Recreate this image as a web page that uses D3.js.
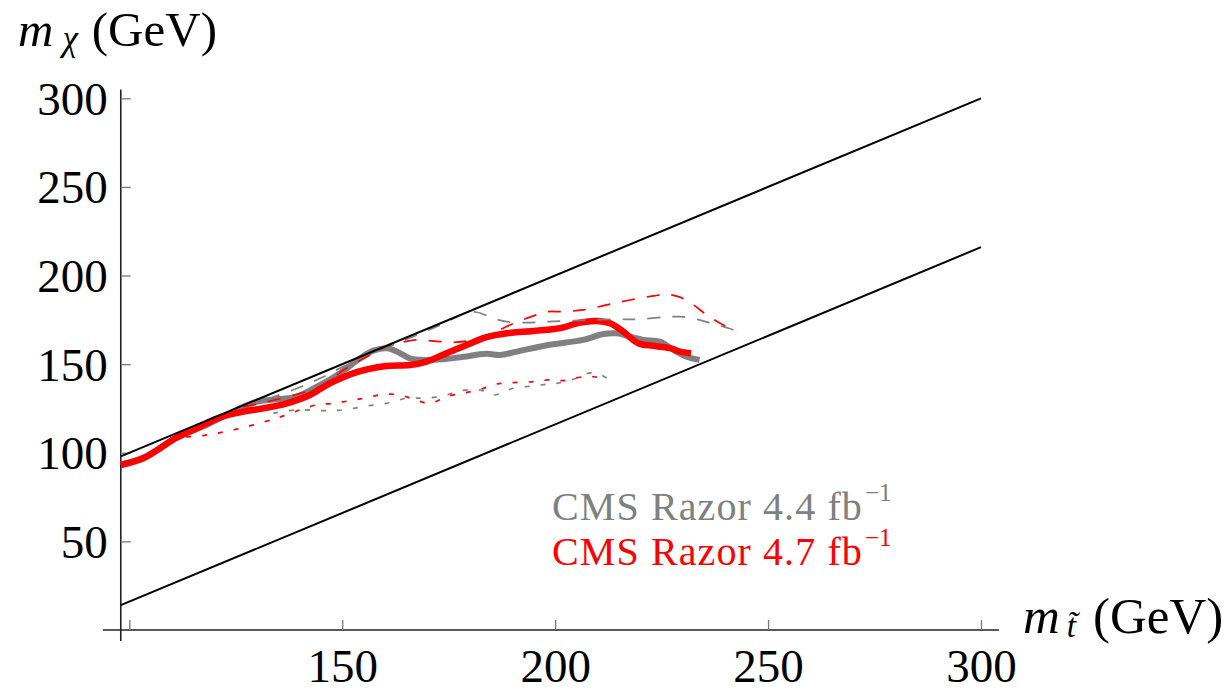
<!DOCTYPE html>
<html>
<head>
<meta charset="utf-8">
<script src="https://cdn.jsdelivr.net/npm/d3@7"></script>
<style>
  html, body { margin: 0; padding: 0; background: #fff; }
  svg { display: block; }
  text { font-family: "Liberation Serif", "Times New Roman", Times, serif; }
</style>
</head>
<body>
<svg id="chart" width="1232" height="689"></svg>
<script>
// ---------------- data ----------------
// CMS Razor 4.7 fb^-1 (red) : thick = observed, dashed = expected, dotted = -1 sigma
const red47ObsStop = [98, 103.3, 111.1, 115.8, 121.3, 126.8, 131.5, 137.0, 142.4, 147.1, 153.8, 160.4, 165.9, 169.8, 174.5, 179.2, 183.9, 188.6, 194.9, 201.2, 205.8, 209.8, 212.9, 216.0, 219.5, 223.1, 227.0, 229.3, 231.9];
const red47ObsChi  = [93.1, 96.9, 108.5, 113.8, 120.0, 123.2, 125.1, 127.9, 132.6, 139.2, 145.8, 149.0, 149.5, 151.4, 156.2, 160.8, 165.2, 167.4, 168.7, 170.3, 173.4, 174.4, 173.1, 168.3, 161.8, 160.3, 159.0, 157.1, 156.2];

const red47ExpStop = [126.8, 144.8, 150.3, 155.8, 161.2, 163.6, 167.5, 173.0, 176.9, 180.8, 184.7, 188.6, 193.3, 198.4, 201.1, 206.6, 212.1, 217.6, 223.1, 226.2, 229.3, 232.5, 235.6, 239.5, 242.7];
const red47ExpChi  = [126.0, 137.3, 146.7, 154.2, 160.8, 162.1, 163.7, 162.7, 162.4, 163.7, 166.5, 171.2, 175.9, 179.6, 179.6, 180.6, 183.4, 186.2, 188.5, 189.4, 187.8, 183.4, 177.8, 172.1, 168.9];

const red47DotStop = [109.6, 116.6, 120.5, 125.2, 129.1, 133.8, 136.2, 140.1, 144.0, 147.9, 151.8, 155.8, 159.7, 163.6, 166.7, 170.6, 174.5, 178.4, 182.4, 186.3, 190.2, 194.9, 198.4, 201.9, 205.8, 209.0, 211.3];
const red47DotChi  = [108.4, 109.5, 111.0, 113.3, 115.7, 118.9, 120.8, 124.2, 127.0, 127.9, 129.4, 131.1, 133.0, 132.6, 130.2, 127.9, 131.7, 133.6, 135.8, 138.8, 139.6, 140.1, 141.1, 140.7, 142.6, 142.9, 142.0];

// CMS Razor 4.4 fb^-1 (gray)
const gray44ObsStop = [98, 103.3, 111.1, 118.0, 125.2, 129.9, 134.6, 139.3, 144.8, 149.5, 154.2, 157.3, 160.5, 162.8, 165.9, 169.0, 173.7, 177.7, 183.9, 187.1, 191.0, 198.4, 206.6, 211.3, 214.5, 217.6, 220.7, 224.6, 227.8, 230.9, 233.9];
const gray44ObsChi  = [93.4, 97.3, 108.5, 115.5, 124.2, 128.8, 130.2, 131.7, 138.3, 144.9, 153.3, 157.6, 159.0, 157.1, 153.3, 152.4, 152.8, 153.9, 155.8, 155.2, 157.1, 160.8, 163.7, 167.0, 167.4, 165.5, 163.7, 162.7, 158.0, 154.2, 152.4];

const gray44ExpStop = [126.8, 138.4, 145.6, 150.2, 163.6, 173.0, 179.2, 181.6, 185.5, 188.6, 193.3, 198.4, 207.4, 215.2, 219.9, 225.4, 229.3, 233.3, 237.2, 241.9, 243.8];
const gray44ExpChi  = [125.8, 135.4, 142.9, 148.6, 162.5, 172.0, 179.0, 179.3, 175.9, 174.0, 173.4, 174.0, 174.9, 175.3, 175.3, 176.5, 176.8, 175.3, 172.7, 169.3, 167.0];

const gray44DotStop = [133.8, 139.3, 145.6, 150.3, 155.8, 161.2, 165.1, 169.8, 174.5, 177.7, 182.4, 185.5, 190.2, 194.9, 198.4, 200.4, 204.3, 207.8, 210.1, 212.1];
const gray44DotChi  = [122.3, 124.2, 123.8, 124.2, 126.4, 128.3, 130.8, 130.8, 132.6, 135.0, 135.4, 132.6, 136.4, 137.7, 138.8, 139.2, 141.5, 144.9, 144.5, 142.2];

// kinematic boundaries: m_chi = m_stop - offset
const boundaryOffsets = [0, 84];
const boundaryStop = [98, 300];

// ticks
const xMajorTicks = [100, 150, 200, 250, 300];
const xTickLabels = ["", "150", "200", "250", "300"];
const xMinorTicks = d3.range(100, 301, 10);
const yMajorTicks = [50, 100, 150, 200, 250, 300];
const yTickLabels = ["50", "100", "150", "200", "250", "300"];
const yMinorTicks = d3.range(10, 301, 10);

const legendLabels = ["CMS Razor 4.4 fb", "CMS Razor 4.7 fb"];
const legendColors = ["#808080", "#ff0000"];

// ---------------- layout ----------------
const svg = d3.select("#chart");
const x = d3.scaleLinear().domain([100, 300]).range([129.3, 981]);
const y = d3.scaleLinear().domain([0, 300]).range([630, 98.3]);
const x0 = 98, xEnd = 304.2, yEnd = 305;

// axes lines (crossing at origin, extending slightly past it)
svg.append("line").attr("x1", x(x0) - 18).attr("x2", x(xEnd))
  .attr("y1", y(0)).attr("y2", y(0)).attr("stroke", "#222").attr("stroke-width", 1.6);
svg.append("line").attr("x1", x(x0)).attr("x2", x(x0))
  .attr("y1", y(0) + 11).attr("y2", y(yEnd)).attr("stroke", "#222").attr("stroke-width", 1.6);

// x ticks
const gx = svg.append("g").attr("transform", `translate(0,${y(0)})`);
gx.call(d3.axisBottom(x).tickValues(xMinorTicks).tickSize(-6).tickFormat(""));
gx.call(d3.axisBottom(x).tickValues(xMajorTicks).tickSize(-10).tickFormat((d, i) => xTickLabels[i]));
gx.selectAll(".domain").remove();
gx.attr("font-family", null);
gx.selectAll(".tick line").attr("stroke", "#777").attr("stroke-width", 1.3);
gx.selectAll(".tick text").attr("y", 52).attr("dy", 0)
  .attr("font-size", 47).attr("fill", "#000");

// y ticks
const gy = svg.append("g").attr("transform", `translate(${x(x0)},0)`);
gy.call(d3.axisLeft(y).tickValues(yMinorTicks).tickSize(-6).tickFormat(""));
gy.call(d3.axisLeft(y).tickValues(yMajorTicks).tickSize(-10).tickFormat((d, i) => yTickLabels[i]));
gy.selectAll(".domain").remove();
gy.attr("font-family", null);
gy.selectAll(".tick line").attr("stroke", "#777").attr("stroke-width", 1.3);
gy.selectAll(".tick text").attr("x", -13).attr("dy", 16)
  .attr("font-size", 47).attr("fill", "#000");

// ---------------- curves ----------------
const line = d3.line().x(d => x(d[0])).y(d => y(d[1])).curve(d3.curveCatmullRom.alpha(0.5));
const zip = (a, b) => a.map((v, i) => [v, b[i]]);

const series = [
  { s: gray44ObsStop, c: gray44ObsChi, color: "#808080", w: 6, dash: null },
  { s: red47ObsStop, c: red47ObsChi, color: "#ff0000", w: 6.5, dash: null },
  { s: gray44ExpStop, c: gray44ExpChi, color: "#808080", w: 1.7, dash: "13,12" },
  { s: red47ExpStop, c: red47ExpChi, color: "#ff0000", w: 1.7, dash: "13,12" },
  { s: gray44DotStop, c: gray44DotChi, color: "#808080", w: 1.7, dash: "5,11" },
  { s: red47DotStop, c: red47DotChi, color: "#ff0000", w: 1.7, dash: "5,11" }
];
series.forEach(sr => {
  svg.append("path").datum(zip(sr.s, sr.c))
    .attr("d", line).attr("fill", "none")
    .attr("stroke", sr.color).attr("stroke-width", sr.w)
    .attr("stroke-linejoin", "round")
    .attr("stroke-dasharray", sr.dash);
});

// boundary lines
boundaryOffsets.forEach(off => {
  svg.append("path").datum(boundaryStop.map(s => [s, s - off]))
    .attr("d", d3.line().x(d => x(d[0])).y(d => y(d[1])))
    .attr("stroke", "#000").attr("stroke-width", 2).attr("fill", "none");
});

// ---------------- titles ----------------
const yt = svg.append("text").attr("x", 18).attr("y", 46).attr("font-size", 49);
yt.append("tspan").attr("font-style", "italic").text("m");
yt.append("tspan").attr("font-style", "italic").attr("font-size", 35).attr("dx", 9).attr("dy", 4).text("χ");
yt.append("tspan").attr("dx", 14).attr("dy", -4).text("(GeV)");

const xt = svg.append("text").attr("x", 1023).attr("y", 633).attr("font-size", 51);
xt.append("tspan").attr("font-style", "italic").text("m");
xt.append("tspan").attr("font-style", "italic").attr("font-size", 33).attr("dx", 7).attr("dy", 4).text("t\u0303");
xt.append("tspan").attr("dx", 17).attr("dy", -4).text("(GeV)");

// ---------------- legend ----------------
const legendBaselines = [520, 565];
legendLabels.forEach((lab, i) => {
  const t = svg.append("text").attr("x", 552).attr("y", legendBaselines[i])
    .attr("font-size", 40).attr("fill", legendColors[i]);
  t.append("tspan").attr("letter-spacing", 1.1).text(lab);
  t.append("tspan").attr("font-size", 25).attr("dx", 2).attr("dy", -19).text("\u22121");
});
</script>
</body>
</html>
